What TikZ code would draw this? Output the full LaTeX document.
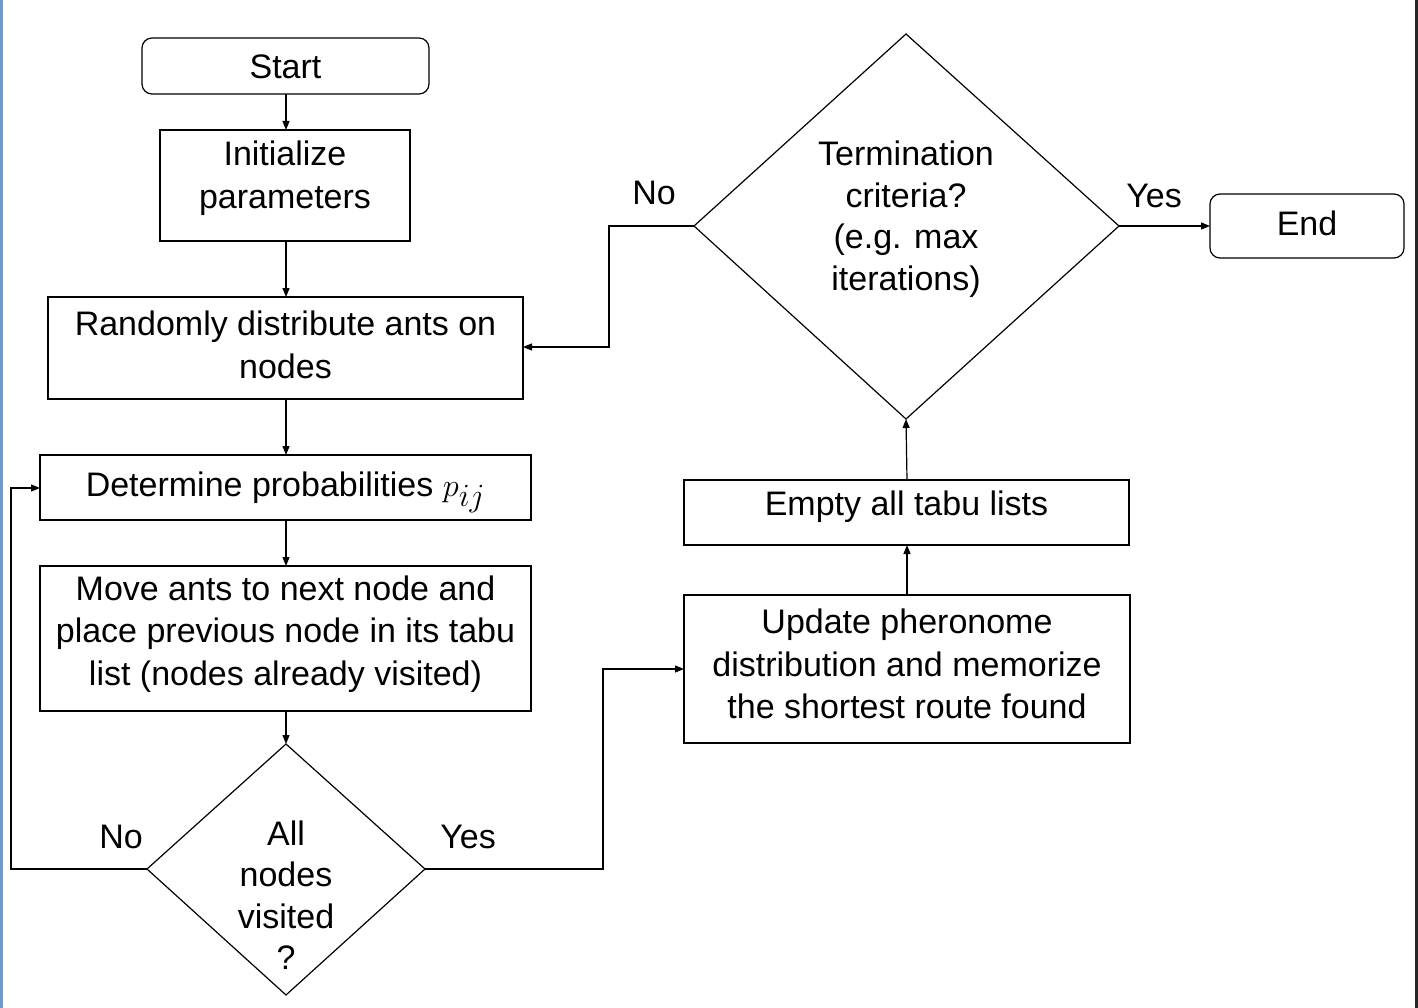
\documentclass[tikz,border=0pt]{standalone}
\usepackage{fontspec}
\usepackage{graphicx}
\setmainfont{Liberation Sans}
\usetikzlibrary{arrows.meta,shapes.geometric}
\begin{document}
\begin{tikzpicture}[x=1pt,y=-1pt,
  every node/.style={font=\fontsize{34}{42.5}\selectfont, align=center, inner sep=0pt},
  box/.style={draw, line width=1.2pt},
  rbox/.style={draw, line width=1.2pt, rounded corners=10pt},
  lbl/.style={font=\fontsize{34}{40}\selectfont},
  conn/.style={line width=1.2pt, -{Triangle[length=9pt,width=7pt]}},
  plain/.style={line width=1.2pt}]
\useasboundingbox (0,0) rectangle (1418,1008);
\fill[white] (0,0) rectangle (1418,1008);
\fill[cyan!50!blue!60] (0,0) rectangle (3,1008);
\fill[black!85] (1415,0) rectangle (1418,1008);
% boxes
\draw[rbox] (142,38) rectangle (429,94);
\node (start) at (285.5,67) {Start};
\coordinate (startS) at (286,94);
\draw[box] (160,130) rectangle (410,241);
\node (init) at (285,178) {Initialize\\parameters};
\coordinate (initN) at (286,130); \coordinate (initS) at (286,241);
\draw[box] (48,297) rectangle (523,399);
\node (rand) at (285.5,345) {Randomly distribute ants on\\nodes};
\coordinate (randN) at (286,297); \coordinate (randS) at (286,399); \coordinate (randE) at (523,347);
\draw[box] (40,455) rectangle (531,520);
\node[anchor=base] (det) at (285.5,496) {Determine probabilities \scalebox{1.3}{$p_{ij}$}};
\coordinate (detN) at (286,455); \coordinate (detS) at (286,520); \coordinate (detW) at (40,488);
\draw[box] (40,566) rectangle (531,711);
\node (move) at (285.5,634) {Move ants to next node and\\place previous node in its tabu\\list (nodes already visited)};
\coordinate (moveN) at (286,566); \coordinate (moveS) at (286,711);
% diamond 1
\coordinate (dT) at (286,744); \coordinate (dL) at (147,869); \coordinate (dR) at (425,869); \coordinate (dB) at (286,995);
\draw[plain] (dT) -- (dR) -- (dB) -- (dL) -- cycle;
\node[font=\fontsize{34}{41.5}\selectfont] (visited) at (286,895) {All\\nodes\\visited\\?};
% diamond 2
\coordinate (tT) at (906,34); \coordinate (tL) at (694,226); \coordinate (tR) at (1119,226); \coordinate (tB) at (906,419);
\draw[plain] (tT) -- (tR) -- (tB) -- (tL) -- cycle;
\node[font=\fontsize{34}{41.5}\selectfont] (term) at (906,219) {Termination\\criteria?\\(e.g. max\\iterations)};
% End
\draw[rbox] (1210,194) rectangle (1404,258);
\node (end) at (1307,223) {End};
\coordinate (endW) at (1210,226);
% right boxes
\draw[box] (684,480) rectangle (1129,545);
\node (empty) at (906.5,507) {Empty all tabu lists};
\coordinate (emptyN) at (907,480); \coordinate (emptyS) at (907,545);
\draw[box] (684,595) rectangle (1130,743);
\node (upd) at (907,664) {Update pheronome\\distribution and memorize\\the shortest route found};
\coordinate (updN) at (907,595); \coordinate (updW) at (684,669);
% connectors
\draw[conn] (startS) -- (initN);
\draw[conn] (initS) -- (randN);
\draw[conn] (randS) -- (detN);
\draw[conn] (detS) -- (moveN);
\draw[conn] (moveS) -- (dT);
\draw[conn] (dL) -- (11,869) -- (11,488) -- (detW);
\draw[conn] (dR) -- (603,869) -- (603,669) -- (updW);
\draw[conn] (updN) -- (emptyS);
\draw[conn] (emptyN) -- (tB);
\draw[conn] (tL) -- (609,226) -- (609,347) -- (randE);
\draw[conn] (tR) -- (endW);
% labels
\node[lbl] (no1) at (121,837) {No};
\node[lbl] (yes1) at (468,837) {Yes};
\node[lbl] (no2) at (654,193) {No};
\node[lbl] (yes2) at (1154,196) {Yes};
\end{tikzpicture}
\end{document}
